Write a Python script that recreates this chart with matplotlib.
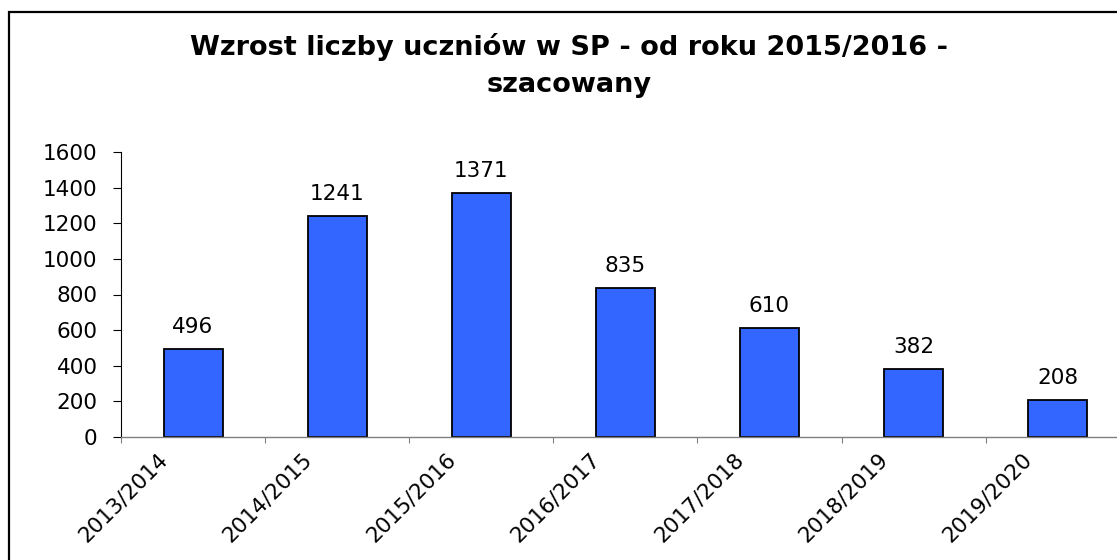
import matplotlib
matplotlib.use('Agg')
from matplotlib import pyplot as plt
from matplotlib.patches import Rectangle
from matplotlib.transforms import ScaledTranslation
import numpy as np

# data
school_years = ['2013/2014', '2014/2015', '2015/2016', '2016/2017',
                '2017/2018', '2018/2019', '2019/2020']
pupils = [496, 1241, 1371, 835, 610, 382, 208]
y_ticks = [0, 200, 400, 600, 800, 1000, 1200, 1400, 1600]
title_line1 = 'Wzrost liczby uczniów w SP - od roku 2015/2016 -'
title_line2 = 'szacowany'

W, H = 1117, 560
plt.rcParams['font.family'] = ['DejaVu Sans']

fig = plt.figure(figsize=(W / 100, H / 100), dpi=100)

# outer frame of the chart object (cropped on the right and bottom)
fig.patches.append(Rectangle((8.5 / W, -0.05), 1.2, 1 - 12 / H + 0.05,
                             transform=fig.transFigure, fill=False,
                             edgecolor='black', linewidth=1.6))

ax = fig.add_axes([121 / W, 1 - 437 / H, 1 - 121 / W, (437 - 152) / H])
x = np.arange(len(school_years))
bars = ax.bar(x, pupils, width=0.41, color='#3366ff', edgecolor='black', linewidth=1.3)

for xi, val in zip(x, pupils):
    ax.annotate(str(val), (xi, val), xytext=(0, 11.5), textcoords='offset points',
                ha='center', va='baseline', fontsize=15.5)

ax.set_xlim(-0.5, -0.5 + (W - 121) / 144.1)
ax.set_ylim(0, 1600)
ax.set_yticks(y_ticks)
ax.tick_params(axis='y', direction='out', length=5.8, width=0.8, pad=11, labelsize=15.5)

# category labels at centres, tick marks on category boundaries
ax.set_xticks(x)
ax.set_xticklabels(school_years, rotation=45, ha='right', rotation_mode='anchor', fontsize=15.5)
ax.tick_params(axis='x', which='major', length=0, pad=9)
ax.set_xticks(np.arange(len(school_years)) - 0.5, minor=True)
ax.tick_params(axis='x', which='minor', direction='out', length=4.5, width=0.8, color='#808080')
offset = ScaledTranslation(-36 / 100, 0, fig.dpi_scale_trans)
for lab in ax.get_xticklabels():
    lab.set_transform(lab.get_transform() + offset)

for side in ['top', 'right']:
    ax.spines[side].set_visible(False)
ax.spines['left'].set_linewidth(0.8)
ax.spines['bottom'].set_color('#808080')
ax.spines['bottom'].set_linewidth(1.0)

fig.text(569 / W, 1 - 55 / H, title_line1, ha='center', va='baseline',
         fontsize=19.5, fontweight='bold')
fig.text(569 / W, 1 - 92 / H, title_line2, ha='center', va='baseline',
         fontsize=19.5, fontweight='bold')

fig.savefig('out.png', dpi=100)
